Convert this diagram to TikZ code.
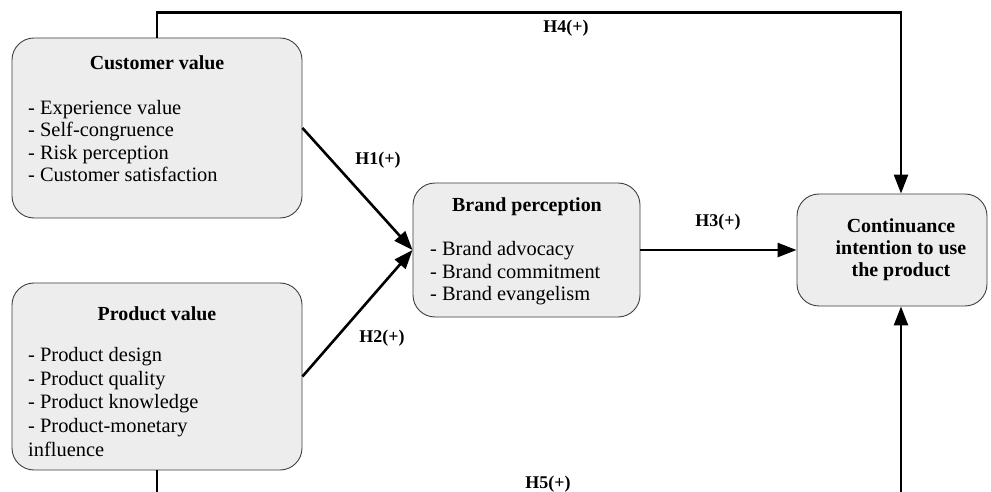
\documentclass[tikz,border=0pt]{standalone}
\usepackage{fontspec}
\setmainfont{Liberation Serif}
\usetikzlibrary{arrows.meta}
\tikzset{
  box/.style={draw=black!75, line width=0.9bp, fill=black!7, rounded corners=22bp, inner sep=0pt},
  arr/.style={line width=2.6bp, -{Triangle[length=19bp,width=14bp]}},
  lab/.style={font=\fontsize{18}{20}\selectfont\bfseries, inner sep=0pt},
  ttl/.style={font=\fontsize{20}{22}\selectfont\bfseries, inner sep=0pt},
  itm/.style={font=\fontsize{20.5}{22.5}\selectfont, align=left, inner sep=0pt, anchor=west}
}
\begin{document}
\begin{tikzpicture}[x=1bp,y=-1bp]
\useasboundingbox[fill=white] (0,0) rectangle (991,492);
% boxes
\node[box, minimum width=290bp, minimum height=180bp] (cust) at (157,128) {};
\node[box, minimum width=290bp, minimum height=187bp] (prod) at (157,376.5) {};
\node[box, minimum width=227bp, minimum height=134bp] (brand) at (526.5,250) {};
\node[box, minimum width=190bp, minimum height=112bp] (cont) at (892,250) {};
% texts
\node[ttl] (custt) at (157,63) {Customer value};
\node[itm] (custi) at (28,141) {- Experience value\\- Self-congruence\\- Risk perception\\- Customer satisfaction};
\node[ttl] (prodt) at (157,314) {Product value};
\node[itm, font=\fontsize{20.5}{24}\selectfont] (prodi) at (28,402) {- Product design\\- Product quality\\- Product knowledge\\- Product-monetary\\influence};
\node[ttl] (brandt) at (527,207) {Brand perception};
\node[itm] (brandi) at (430,273.5) {- Brand advocacy\\- Brand commitment\\- Brand evangelism};
\node[ttl, align=center] (contt) at (901,250) {Continuance\\intention to use\\the product};
% connectors
\draw[arr] (cust.east) -- (brand.west);
\draw[arr] (prod.east) -- (brand.west);
\draw[arr] (brand.east) -- (cont.west);
\draw[arr] (cust.north) -- ++(0,-25) -| ([xshift=9bp]cont.north);
\draw[arr] (prod.south) -- (157,502) -| ([xshift=9bp]cont.south);
% labels
\node[lab] (h1) at (378,160) {H1(+)};
\node[lab] (h2) at (382,338) {H2(+)};
\node[lab] (h3) at (718,222) {H3(+)};
\node[lab] (h4) at (566,28) {H4(+)};
\node[lab] (h5) at (548,484) {H5(+)};
\end{tikzpicture}
\end{document}
